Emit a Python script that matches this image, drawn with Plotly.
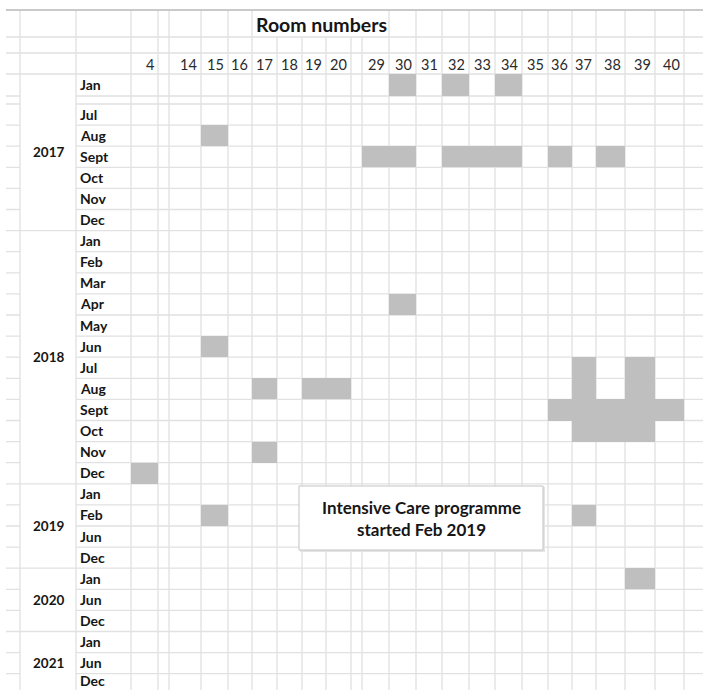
import plotly.graph_objects as go

# ---------------- data ----------------
ROOMS = [4, 14, 15, 16, 17, 18, 19, 20, 29, 30, 31, 32, 33, 34, 35, 36, 37, 38, 39, 40]
YEARS = ["2017", "2018", "2019", "2020", "2021"]
MONTHS_2017 = ["Jan", "", "Jul", "Aug", "Sept", "Oct", "Nov", "Dec"]
MONTHS_2018 = ["Jan", "Feb", "Mar", "Apr", "May", "Jun", "Jul", "Aug", "Sept", "Oct", "Nov", "Dec"]
MONTHS_2019 = ["Jan", "Feb", "Jun", "Dec"]
MONTHS_2020 = ["Jan", "Jun", "Dec"]
MONTHS_2021 = ["Jan", "Jun", "Dec"]
MONTHS_BY_YEAR = [MONTHS_2017, MONTHS_2018, MONTHS_2019, MONTHS_2020, MONTHS_2021]

# (year, month, room) cells that are shaded
OCCUPIED = [
    ("2017", "Jan", 30), ("2017", "Jan", 32), ("2017", "Jan", 34),
    ("2017", "Aug", 15),
    ("2017", "Sept", 29), ("2017", "Sept", 30), ("2017", "Sept", 32), ("2017", "Sept", 33),
    ("2017", "Sept", 34), ("2017", "Sept", 36), ("2017", "Sept", 38),
    ("2018", "Apr", 30),
    ("2018", "Jun", 15),
    ("2018", "Jul", 37), ("2018", "Jul", 39),
    ("2018", "Aug", 17), ("2018", "Aug", 19), ("2018", "Aug", 20), ("2018", "Aug", 37), ("2018", "Aug", 39),
    ("2018", "Sept", 36), ("2018", "Sept", 37), ("2018", "Sept", 38), ("2018", "Sept", 39), ("2018", "Sept", 40),
    ("2018", "Oct", 37), ("2018", "Oct", 38), ("2018", "Oct", 39),
    ("2018", "Nov", 17),
    ("2018", "Dec", 4),
    ("2019", "Feb", 15), ("2019", "Feb", 37),
    ("2020", "Jan", 39),
]

TITLE = "Room numbers"
NOTE = "Intensive Care programme<br>started Feb 2019"

# ---------------- sheet geometry (pixels) ----------------
W, H = 703, 690
X0, Y0 = 6, 10
LEAD_W = [14, 56, 55]                     # spare column, year column, month column
ROOM_COL_W = [27, 32, 27, 24, 25, 25, 24, 25, 27, 27, 26, 27, 26, 27, 26, 24, 24, 29, 30, 29]
GAP_W = 11
TRAIL_W = 19
HEAD_H = [27, 16, 21]                     # title row, blank row, room-number row
FIRST_ROW_H, ROW_H, SPACER_H = 22, 21.1, 8

FONT = "Lato"
TXT = "#161616"
GRID = "#e1e1e1"
FILL = "#bfbfbf"

# column edges
col_kinds = ["spare", "year", "month"]
widths = list(LEAD_W)
room_col_index = {}
for i, (room, w) in enumerate(zip(ROOMS, ROOM_COL_W)):
    if i > 0 and room - ROOMS[i - 1] > 1:
        col_kinds.append("gap")
        widths.append(GAP_W)
    room_col_index[room] = len(widths)
    col_kinds.append("room")
    widths.append(w)
col_kinds.append("trail")
widths.append(TRAIL_W)
col_room = {c: r for r, c in room_col_index.items()}
x_edges = [X0]
for w in widths:
    x_edges.append(x_edges[-1] + w)

# row edges
y_edges = [Y0]
for h in HEAD_H:
    y_edges.append(y_edges[-1] + h)
body_rows = []  # (year, month)
for yr, months in zip(YEARS, MONTHS_BY_YEAR):
    for m in months:
        body_rows.append((yr, m))
for k, (yr, m) in enumerate(body_rows):
    h = FIRST_ROW_H if k == 0 else (SPACER_H if m == "" else ROW_H)
    y_edges.append(y_edges[-1] + h)
body_top = len(HEAD_H)  # index into y_edges where the body starts

# ---------------- grid lines (one path, under the traces) ----------------
segs = []
title_col = room_col_index[17]
title_end = room_col_index[30]
for ci in range(1, len(x_edges) - 1):
    x = x_edges[ci]
    top = y_edges[1] if title_col < ci < title_end else Y0   # title text overflows these cells
    segs.append(((x, top), (x, H)))

year_x0, year_x1 = x_edges[1], x_edges[2]
row_year = [yr for yr, _ in body_rows]
for ri in range(1, len(y_edges)):
    y = y_edges[ri]
    bi = ri - body_top
    if 0 < bi < len(body_rows) and row_year[bi - 1] == row_year[bi]:
        # merged year cell: no line across the year column
        segs.append(((X0, y), (year_x0, y)))
        segs.append(((year_x1, y), (W, y)))
    else:
        segs.append(((X0, y), (W, y)))

grid_path = " ".join("M%.1f,%.1f L%.1f,%.1f" % (a[0], a[1], b[0], b[1]) for a, b in segs)

shapes = [
    dict(type="path", path=grid_path, xref="x", yref="y", line=dict(color=GRID, width=1.3), layer="below"),
    dict(type="line", x0=X0, x1=W, y0=Y0, y1=Y0, xref="x", yref="y",
         line=dict(color="#c9c9c9", width=2), layer="below"),
]

fig = go.Figure()

# ---------------- shaded cells ----------------
first_c = room_col_index[ROOMS[0]]
last_c = room_col_index[ROOMS[-1]]
hx = x_edges[first_c:last_c + 2]
hy = y_edges[body_top:]
occ = set(OCCUPIED)
z = []
for yr, m in body_rows:
    row = []
    for ci in range(first_c, last_c + 1):
        val = None
        if col_kinds[ci] == "room" and (yr, m, col_room[ci]) in occ:
            val = 1
        row.append(val)
    z.append(row)
fig.add_trace(go.Heatmap(x=hx, y=hy, z=z, colorscale=[[0, FILL], [1, FILL]], zmin=0, zmax=1,
                         showscale=False, hoverinfo="skip"))

# ---------------- text ----------------
ann = []
hdr_y = (y_edges[3] + y_edges[2]) / 2 + 0.5
for room in ROOMS:
    ci = room_col_index[room]
    ann.append(dict(x=x_edges[ci + 1] - 2, y=hdr_y, text=str(room), xanchor="right", yanchor="middle",
                    showarrow=False, font=dict(family=FONT, size=14.5, color="#2a2a2a")))
ann.append(dict(x=x_edges[title_col] + 2, y=(y_edges[0] + y_edges[1]) / 2 + 1, text="<b>%s</b>" % TITLE,
                xanchor="left", yanchor="middle", showarrow=False,
                font=dict(family=FONT, size=19.5, color=TXT)))
for k, (yr, m) in enumerate(body_rows):
    if m:
        yc = (y_edges[body_top + k] + y_edges[body_top + k + 1]) / 2 - 0.5
        yc = min(yc, H - 10)  # keep the last, partly visible row's label on the sheet
        ann.append(dict(x=x_edges[2] + 2, y=yc, text="<b>%s</b>" % m, xanchor="left", yanchor="middle",
                        showarrow=False, font=dict(family=FONT, size=14, color=TXT)))
for yr in YEARS:
    idx = [k for k, (y_, _) in enumerate(body_rows) if y_ == yr]
    top = y_edges[body_top + idx[0]]
    bot = y_edges[body_top + idx[-1] + 1]
    ann.append(dict(x=(year_x0 + year_x1) / 2, y=(top + bot) / 2, text="<b>%s</b>" % yr,
                    xanchor="center", yanchor="middle", showarrow=False,
                    font=dict(family=FONT, size=13.5, color=TXT)))

# note box
bx0, bx1, by0, by1 = 299, 543, 486, 550
shapes += [
    dict(type="rect", x0=bx0 + 1, x1=bx1 + 2, y0=by0 + 1, y1=by1 + 2, line=dict(width=0),
         fillcolor="#e4e4e4", layer="above"),
    dict(type="rect", x0=bx0, x1=bx1, y0=by0, y1=by1, line=dict(color="#c4c4c4", width=1),
         fillcolor="white", layer="above"),
]
ann.append(dict(x=(bx0 + bx1) / 2, y=(by0 + by1) / 2, text="<b>%s</b>" % NOTE, xanchor="center",
                yanchor="middle", showarrow=False,
                font=dict(family=FONT, size=17, color=TXT), align="center"))

fig.update_layout(
    width=W, height=H, margin=dict(l=0, r=0, t=0, b=0),
    paper_bgcolor="white", plot_bgcolor="rgba(0,0,0,0)",
    xaxis=dict(range=[0, W], visible=False, fixedrange=True),
    yaxis=dict(range=[H, 0], visible=False, fixedrange=True),
    annotations=ann, shapes=shapes, showlegend=False,
)
fig.write_html("out.html")
